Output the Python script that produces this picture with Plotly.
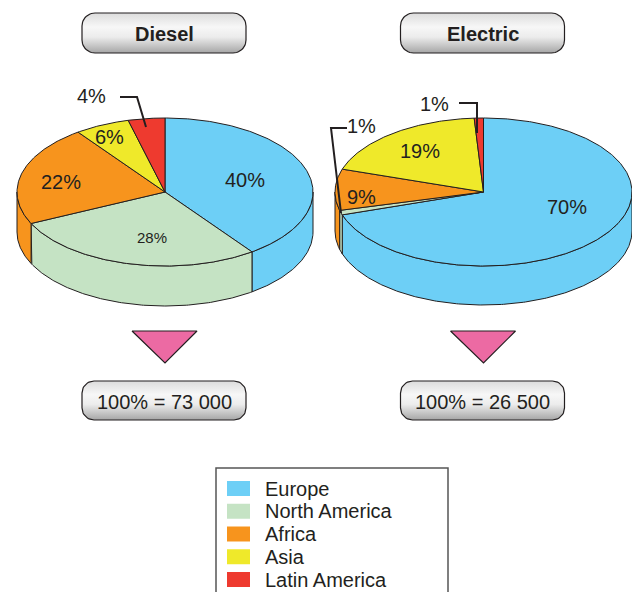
import numpy as np
import plotly.graph_objects as go

# ---------------- data ----------------
categories = ["Europe", "North America", "Africa", "Asia", "Latin America"]
diesel_values = [40, 28, 22, 6, 4]
electric_values = [70, 1, 9, 19, 1]
pie_titles = ["Diesel", "Electric"]
pie_totals = ["73 000", "26 500"]

# ---------------- styles / layout ----------------
colors = ["#6dcff6", "#c5e3c4", "#f7941d", "#efe92a", "#ee3a2f"]
INK = "#231f20"
FONT = "Liberation Sans, Arial, Helvetica, sans-serif"
W, H = 640, 592
PAGE_MARGIN = 8  # default browser body margin

pies = [
    dict(values=diesel_values, cx=165, cy=192, rx=148, ry=74, depth=40,
         label_xy=[(245, 180), (152, 237), (61, 182), (109, 137), (91, 96)],
         label_size=[20, 15, 20, 20, 20],
         leaders={4: [(120, 97), (137, 97), (146, 127)]}),
    dict(values=electric_values, cx=483.5, cy=192, rx=148.5, ry=74, depth=39,
         label_xy=[(567, 207), (361, 126), (361, 197), (420, 151), (434, 104)],
         label_size=[20, 20, 20, 20, 20],
         leaders={1: [(347, 128), (331, 128), (341, 213)],
                  4: [(459, 103), (477, 103), (477, 133)]}),
]

fig = go.Figure()


def arc(cx, cy, rx, ry, a, b, dy=0.0):
    n = max(3, int(np.degrees(b - a) * 1.5))
    t = np.linspace(a, b, n)
    return cx + rx * np.sin(t), cy - ry * np.cos(t) + dy


def poly(x, y, fill, lw=1, color=INK):
    fig.add_trace(go.Scatter(x=list(x), y=list(y), mode="lines", fill="toself",
                             fillcolor=fill, line=dict(color=color, width=lw),
                             hoverinfo="skip", showlegend=False))


def rounded_rect(x0, y0, x1, y1, r):
    xs, ys = [], []
    corners = [(x1 - r, y0 + r, -np.pi / 2, 0), (x1 - r, y1 - r, 0, np.pi / 2),
               (x0 + r, y1 - r, np.pi / 2, np.pi), (x0 + r, y0 + r, np.pi, 1.5 * np.pi)]
    for cx, cy, a, b in corners:
        t = np.linspace(a, b, 12)
        xs += list(cx + r * np.cos(t))
        ys += list(cy + r * np.sin(t))
    xs.append(xs[0]); ys.append(ys[0])
    return xs, ys


def grad_box(x0, y0, x1, y1, r, text, bold):
    xs, ys = rounded_rect(x0, y0, x1, y1, r)
    fig.add_trace(go.Scatter(
        x=xs, y=ys, mode="lines", fill="toself",
        fillgradient=dict(type="vertical", start=y0, stop=y1,
                          colorscale=[[0, "#dcdcdc"], [0.35, "#f7f7f7"],
                                      [0.6, "#ececec"], [1, "#a6a6a6"]]),
        line=dict(color=INK, width=1.2), hoverinfo="skip", showlegend=False))
    fig.add_annotation(x=(x0 + x1) / 2, y=(y0 + y1) / 2 + 1, text=f"<b>{text}</b>" if bold else text,
                       showarrow=False, font=dict(family=FONT, size=20, color=INK),
                       xanchor="center", yanchor="middle")


for i, p in enumerate(pies):
    vals = np.array(p["values"], dtype=float)
    frac = np.concatenate([[0], np.cumsum(vals) / vals.sum()]) * 2 * np.pi
    cx, cy, rx, ry, d = p["cx"], p["cy"], p["rx"], p["ry"], p["depth"]
    # side faces (front half only)
    for k in range(len(vals)):
        lo, hi = max(frac[k], np.pi / 2), min(frac[k + 1], 1.5 * np.pi)
        if hi > lo:
            tx, ty = arc(cx, cy, rx, ry, lo, hi)
            bx, by = arc(cx, cy, rx, ry, lo, hi, dy=d)
            poly(np.concatenate([tx, bx[::-1], tx[:1]]),
                 np.concatenate([ty, by[::-1], ty[:1]]), colors[k])
    # top faces
    for k in range(len(vals)):
        tx, ty = arc(cx, cy, rx, ry, frac[k], frac[k + 1])
        poly(np.concatenate([[cx], tx, [cx]]), np.concatenate([[cy], ty, [cy]]), colors[k])
    # leaders
    for k, pts in p["leaders"].items():
        fig.add_trace(go.Scatter(x=[q[0] for q in pts], y=[q[1] for q in pts], mode="lines",
                                 line=dict(color=INK, width=2), hoverinfo="skip", showlegend=False))
    # labels
    for k, v in enumerate(p["values"]):
        lx, ly = p["label_xy"][k]
        fig.add_annotation(x=lx, y=ly, text=f"{v}%", showarrow=False,
                           font=dict(family=FONT, size=p["label_size"][k], color=INK),
                           xanchor="center", yanchor="middle")
    # title box
    grad_box(cx - 83, 13, cx + 81, 53, 13, pie_titles[i], True)
    # pink triangle
    poly([cx - 33, cx + 32, cx, cx - 33], [331, 331, 363, 331], "#ec6aa3", lw=1.2)
    # total box
    grad_box(cx - 83, 381, cx + 81, 420, 12, f"100% = {pie_totals[i]}", False)

# legend
fig.add_shape(type="rect", x0=216, x1=448, y0=468, y1=605,
              line=dict(color="#555555", width=1.5), fillcolor="rgba(0,0,0,0)")
row0, step = 488.5, 22.75
for k, name in enumerate(categories):
    yc = row0 + k * step
    fig.add_shape(type="rect", x0=227, x1=250, y0=yc - 7.5, y1=yc + 7.5,
                  line=dict(width=0), fillcolor=colors[k])
    fig.add_annotation(x=263, y=yc, text=name, showarrow=False, xanchor="left", yanchor="middle",
                       font=dict(family=FONT, size=20, color=INK))

# the page body has an 8px margin, so the figure covers page pixels 8..640 / 8..592
fig.update_layout(width=W - PAGE_MARGIN, height=H - PAGE_MARGIN,
                  margin=dict(l=0, r=0, t=0, b=0),
                  paper_bgcolor="white", plot_bgcolor="white", showlegend=False,
                  xaxis=dict(range=[PAGE_MARGIN, W], visible=False, fixedrange=True),
                  yaxis=dict(range=[H, PAGE_MARGIN], visible=False, fixedrange=True))
fig.write_html("out.html")
